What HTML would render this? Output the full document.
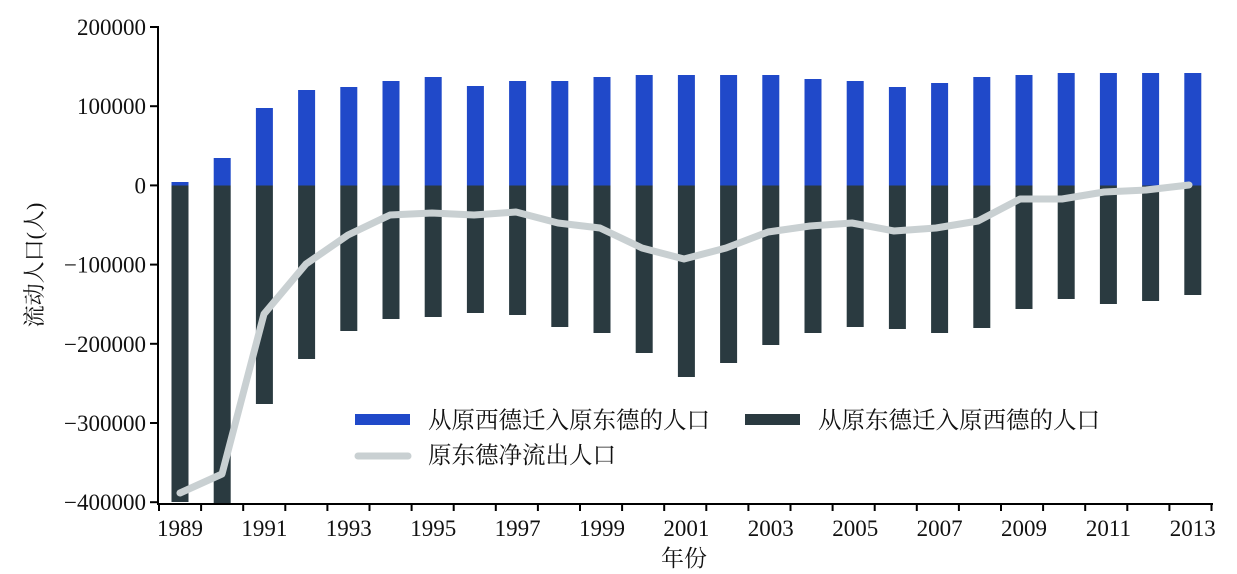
<!DOCTYPE html>
<html><head><meta charset="utf-8"><style>body{margin:0;background:#fff}svg{display:block}text{font-family:"Liberation Serif","Noto Serif CJK SC",serif;fill:#111}</style></head><body>
<svg width="1237" height="574" viewBox="0 0 1237 574">
<g id="bars"></g>
<polyline points="180,493 222,474 264,314 306,264 348,235 390,215 432,213 474,215 516,212 558,223 600,228 642,248 684,259 726,248 768,232 810,226 852,223 894,231 936,228 978,221 1020,199 1062,199 1104,192 1146,190 1189,185" fill="none" stroke="#c9d0d2" stroke-width="7" stroke-linejoin="round" stroke-linecap="round"/>
<line x1="158" y1="26" x2="158" y2="504" stroke="#000" stroke-width="2"/>
<line x1="157" y1="504" x2="1213" y2="504" stroke="#000" stroke-width="2"/>
<g id="ax" font-size="23"></g>
<text x="42" y="265" font-size="22" text-anchor="middle" transform="rotate(-90 42 265)">流动人口(人)</text>
<text x="684" y="566" font-size="23" text-anchor="middle">年份</text>
<rect x="355" y="414" width="55" height="11" fill="#2049c9"/>
<text x="428" y="428" font-size="23.5">从原西德迁入原东德的人口</text>
<rect x="745" y="414" width="55" height="11" fill="#2a3a40"/>
<text x="818" y="428" font-size="23.5">从原东德迁入原西德的人口</text>
<line x1="358" y1="456" x2="408" y2="456" stroke="#c9d0d2" stroke-width="7" stroke-linecap="round"/>
<text x="428" y="463" font-size="23.5">原东德净流出人口</text>
</svg>
<script>
var top_=[182,158,108,90,87,81,77,86,81,81,77,75,75,75,75,79,81,87,83,77,75,73,73,73,73];
var bot=[502,503,404,359,331,319,317,313,315,327,333,353,377,363,345,333,327,329,333,328,309,299,304,301,295];
var s='';
for(var i=0;i<25;i++){var c=180+i*42.2;
s+='<rect x="'+(c-8.5)+'" y="'+top_[i]+'" width="17" height="'+(185.5-top_[i])+'" fill="#2049c9"/>';
s+='<rect x="'+(c-8.5)+'" y="185.5" width="17" height="'+(bot[i]-185.5)+'" fill="#2a3a40"/>';}
document.getElementById('bars').innerHTML=s;
var a='';var lab=['200000','100000','0','\u2212100000','\u2212200000','\u2212300000','\u2212400000'];
for(var j=0;j<7;j++){var y=27+j*79.2;a+='<line x1="150" y1="'+y+'" x2="158" y2="'+y+'" stroke="#000" stroke-width="2"/><text x="146" y="'+(y+8)+'" text-anchor="end">'+lab[j]+'</text>';}
for(var k=0;k<=25;k++){var x=159+k*42.1;a+='<line x1="'+x+'" y1="504" x2="'+x+'" y2="511" stroke="#000" stroke-width="2"/>';}
for(var k=0;k<25;k+=2){a+='<text x="'+(180+k*42.2)+'" y="536" text-anchor="middle">'+(1989+k)+'</text>';}
document.getElementById('ax').innerHTML=a;
</script>
</body></html>
